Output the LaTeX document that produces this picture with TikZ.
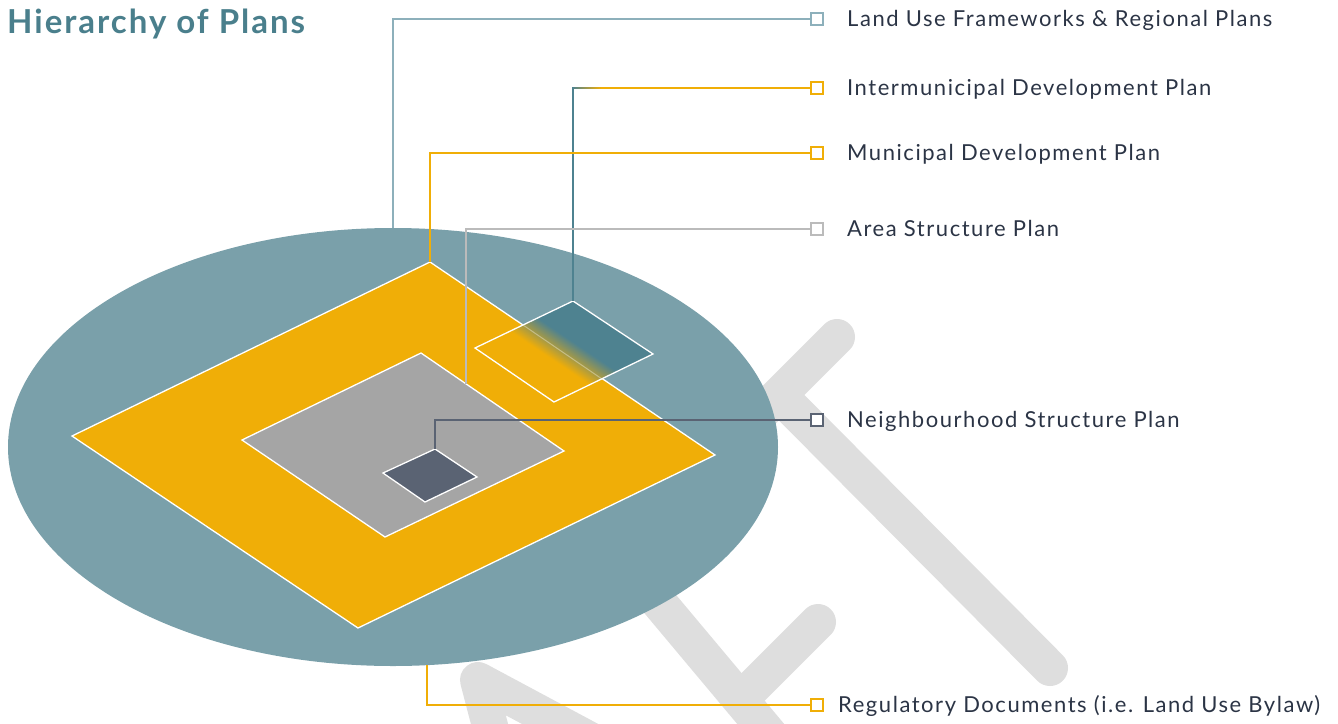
\documentclass[tikz,border=0pt]{standalone}
\usepackage{fontspec}
\setmainfont{Lato}[LetterSpace=7]
\definecolor{plteal}{HTML}{7AA0AA}
\definecolor{plyellow}{HTML}{F0AE07}
\definecolor{plgray}{HTML}{A5A5A5}
\definecolor{pldark}{HTML}{5A6373}
\definecolor{plidp}{HTML}{4E8290}
\definecolor{pltitle}{HTML}{4A7F8C}
\definecolor{plline}{HTML}{8DB0BB}
\definecolor{plasp}{HTML}{BBBBBB}
\definecolor{pltext}{HTML}{2B3445}
\definecolor{plmark}{HTML}{DEDEDE}
\pgfdeclareverticalshading{idpfade}{100bp}{color(0bp)=(plyellow); color(45bp)=(plyellow); color(55bp)=(plidp); color(100bp)=(plidp)}
\newcommand{\labfont}{\fontsize{22}{26}\selectfont}

\begin{document}
\begin{tikzpicture}[x=1pt,y=-1pt,
    diam/.style={draw=white,line width=1.3pt},
    lk/.style={line width=1.6pt},
    sq/.style={draw,fill=white,line width=1.8pt,minimum size=12.5pt,inner sep=0pt},
    lab/.style={anchor=base west,text=pltext,font=\labfont,inner sep=0pt},
    wmark/.style={line width=36pt,plmark,line cap=round,line join=round}]
    \useasboundingbox (0,0) rectangle (1338,723);
    \draw[wmark] (837,337) -- (740,434);
    \draw[wmark] (781,397) -- (1050,668);
    \draw[wmark] (818,622) -- (742,698);
    \draw[wmark] (620,556) -- (780,747);
    \draw[wmark] (495,745) -- (478,680) -- (605,748);
    \fill[plteal] (393,447) ellipse [x radius=385pt, y radius=219pt];
    \filldraw[diam,fill=plyellow] (430,262) -- (715,455) -- (358,628) -- (72,436) -- cycle;
    \filldraw[diam,fill=plgray] (421,353) -- (564,451) -- (385,537) -- (242,440) -- cycle;
    \filldraw[diam,fill=pldark] (435,449) -- (477,477) -- (425,502) -- (383,473) -- cycle;
    \shade[shading=idpfade,shading angle=-34] (573,301) -- (653,354) -- (554,402) -- (475,348) -- cycle;
    \draw[white,opacity=0.35,line width=1pt] (523,325) -- (602,379);
    \draw[diam] (573,301) -- (653,354) -- (554,402) -- (475,348) -- cycle;
    \coordinate (luf) at (393,228);
    \coordinate (idp) at (573,301);
    \coordinate (mdp) at (430,262);
    \coordinate (asp) at (466,384);
    \coordinate (nsp) at (435,449);
    \coordinate (rd) at (427,665);
    \node[sq,draw=plline] (lufbox) at (817,19) {};
    \node[sq,draw=plyellow] (idpbox) at (817,88) {};
    \node[sq,draw=plyellow] (mdpbox) at (817,153) {};
    \node[sq,draw=plasp] (aspbox) at (817,229) {};
    \node[sq,draw=pldark] (nspbox) at (817,420) {};
    \node[sq,draw=plyellow] (rdbox) at (817,705) {};
    \draw[lk,plline] (luf) |- (lufbox);
    \draw[lk,plidp] (idp) -- (idp |- idpbox);
    \draw[lk,plyellow] (idp |- idpbox) -- (idpbox);
    \shade[left color=plidp,right color=plyellow] ([xshift=-0.8pt,yshift=0.8pt]idp |- idpbox) rectangle ([xshift=28pt,yshift=-0.8pt]idp |- idpbox);
    \draw[lk,plyellow] (mdp) |- (mdpbox);
    \draw[lk,plasp] (asp) |- (aspbox);
    \draw[lk,pldark] (nsp) |- (nspbox);
    \draw[lk,plyellow] (rd) |- (rdbox);
    \node[anchor=base west,inner sep=0pt,text=pltitle,font=\fontsize{33}{38}\selectfont\bfseries\addfontfeature{LetterSpace=6}] (title) at (7,33) {Hierarchy of Plans};
    \node[lab] (luftext) at (847,26) {Land Use Frameworks \& Regional Plans};
    \node[lab] (idptext) at (847,95) {Intermunicipal Development Plan};
    \node[lab] (mdptext) at (847,160) {Municipal Development Plan};
    \node[lab] (asptext) at (847,236) {Area Structure Plan};
    \node[lab] (nsptext) at (847,427) {Neighbourhood Structure Plan};
    \node[lab] (rdtext) at (838,712) {Regulatory Documents (i.e. Land Use Bylaw)};
\end{tikzpicture}
\end{document}
